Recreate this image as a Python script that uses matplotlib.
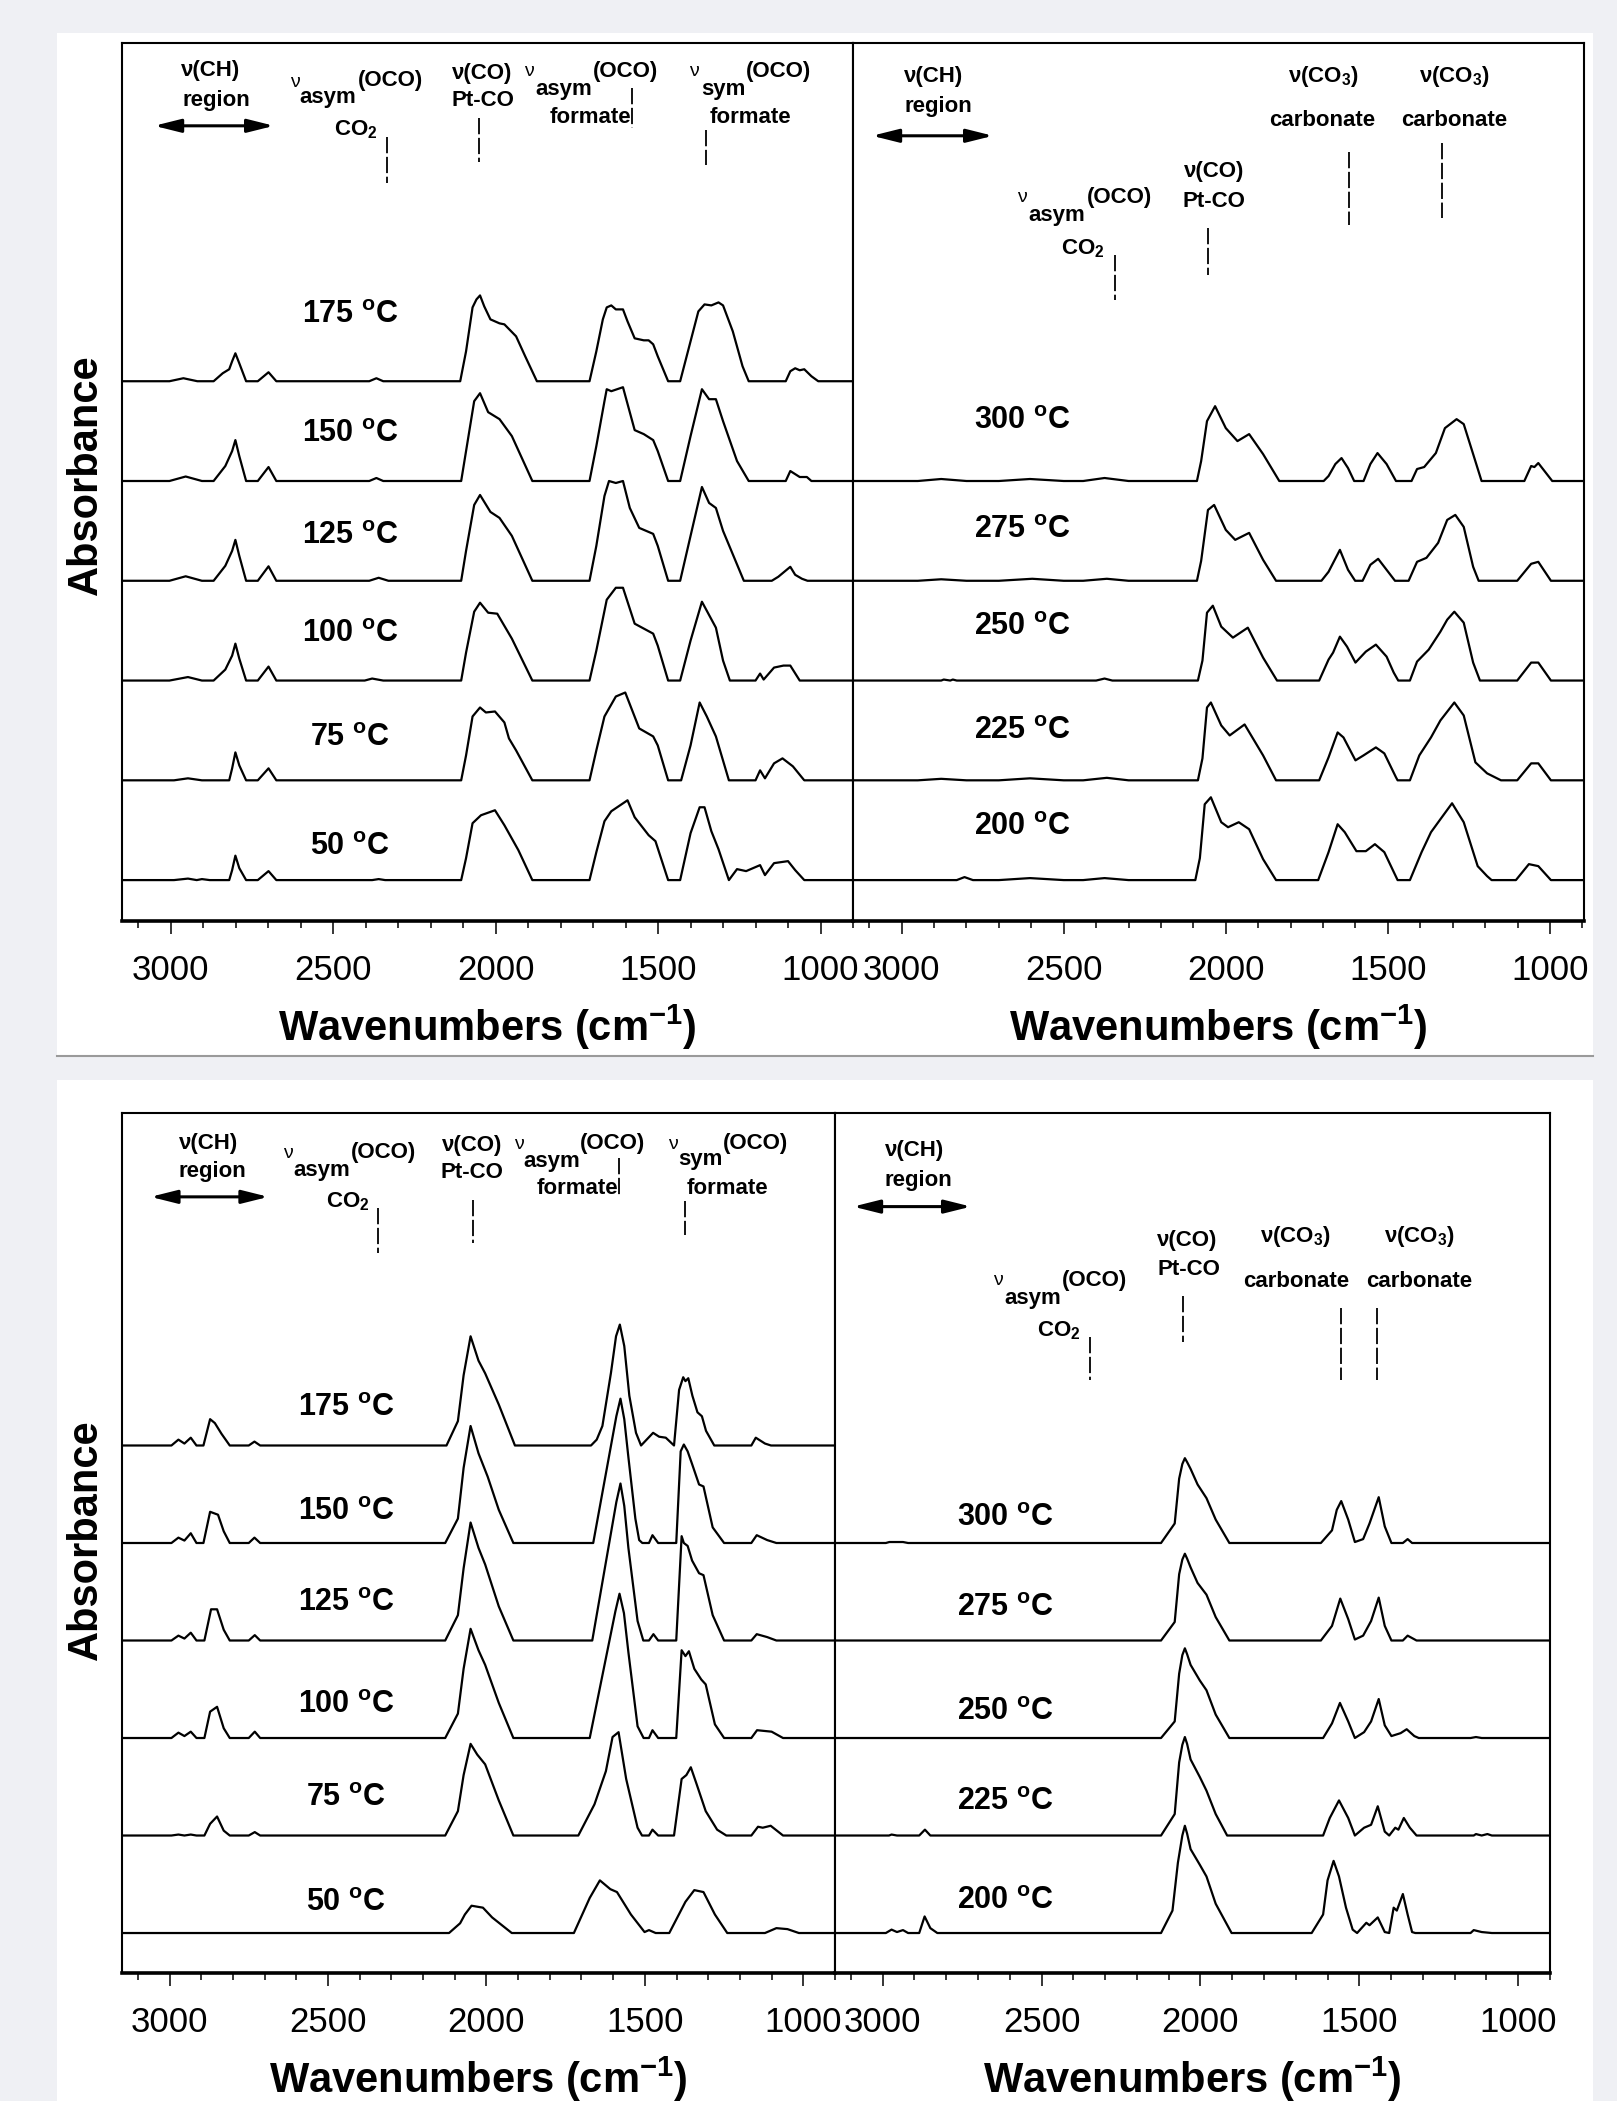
import matplotlib.pyplot as plt
from matplotlib.patches import Rectangle
from matplotlib.lines import Line2D
from matplotlib.ticker import MultipleLocator

W, H = 1617, 2101

plt.rcParams['font.family'] = ['Liberation Sans', 'DejaVu Sans']
plt.rcParams['mathtext.fontset'] = 'custom'
plt.rcParams['mathtext.rm'] = 'Liberation Sans'
plt.rcParams['mathtext.bf'] = 'Liberation Sans:bold'
plt.rcParams['mathtext.it'] = 'Liberation Sans:italic'

# spectra: (wavenumber cm-1, absorbance above the trace's own baseline)

# ---- upper figure, 50-175 C ----
tl_50 = [(3160, 0), (2990, 0), (2947, 0.015), (2920, 0), (2904, 0.01), (2880, 0), (2820, 0), (2811, 0.1),
         (2801, 0.245), (2789, 0.12), (2768, 0), (2732, 0), (2699, 0.09), (2675, 0), (2380, 0), (2360, 0.01),
         (2340, 0), (2106, 0), (2091, 0.22), (2071, 0.57), (2045, 0.65), (2002, 0.70), (1973, 0.55),
         (1930, 0.30), (1887, 0), (1711, 0), (1690, 0.28), (1665, 0.59), (1644, 0.69), (1594, 0.80),
         (1572, 0.63), (1529, 0.45), (1508, 0.39), (1469, 0), (1432, 0), (1400, 0.47), (1372, 0.73),
         (1357, 0.73), (1336, 0.49), (1314, 0.31), (1282, 0), (1257, 0.11), (1229, 0.09), (1186, 0.15),
         (1171, 0.05), (1143, 0.17), (1100, 0.19), (1078, 0.1), (1050, 0), (890, 0)]
tl_75 = [(3160, 0), (2990, 0), (2947, 0.02), (2904, 0), (2820, 0), (2811, 0.12), (2801, 0.28), (2789, 0.15),
         (2768, 0), (2732, 0), (2699, 0.12), (2675, 0), (2106, 0), (2091, 0.25), (2071, 0.64), (2048, 0.73),
         (2030, 0.68), (2002, 0.69), (1973, 0.58), (1959, 0.42), (1937, 0.30), (1887, 0), (1711, 0),
         (1690, 0.3), (1665, 0.64), (1630, 0.84), (1601, 0.88), (1558, 0.52), (1515, 0.44), (1501, 0.35),
         (1469, 0), (1429, 0), (1400, 0.35), (1372, 0.78), (1350, 0.64), (1322, 0.44), (1282, 0), (1200, 0),
         (1186, 0.10), (1171, 0.02), (1143, 0.17), (1117, 0.22), (1085, 0.14), (1050, 0), (890, 0)]
tl_100 = [(3160, 0), (3004, 0), (2947, 0.035), (2904, 0), (2868, 0), (2832, 0.11), (2811, 0.25), (2801, 0.37),
          (2789, 0.22), (2768, 0), (2732, 0), (2699, 0.14), (2675, 0), (2403, 0), (2380, 0.02), (2346, 0),
          (2106, 0), (2091, 0.28), (2066, 0.69), (2048, 0.78), (2023, 0.68), (1995, 0.67), (1950, 0.42),
          (1887, 0), (1711, 0), (1690, 0.3), (1658, 0.81), (1630, 0.93), (1608, 0.93), (1572, 0.57),
          (1515, 0.47), (1501, 0.35), (1469, 0), (1432, 0), (1400, 0.4), (1365, 0.79), (1322, 0.53),
          (1300, 0.2), (1279, 0), (1200, 0), (1186, 0.07), (1175, 0.01), (1143, 0.13), (1114, 0.15),
          (1093, 0.15), (1064, 0), (890, 0)]
tl_125 = [(3160, 0), (3004, 0), (2954, 0.045), (2904, 0), (2868, 0), (2832, 0.15), (2811, 0.3), (2801, 0.41),
          (2789, 0.25), (2768, 0), (2732, 0), (2699, 0.145), (2675, 0), (2389, 0), (2360, 0.03), (2330, 0),
          (2106, 0), (2091, 0.3), (2066, 0.76), (2048, 0.86), (2016, 0.69), (1988, 0.63), (1950, 0.45),
          (1887, 0), (1711, 0), (1690, 0.35), (1665, 0.85), (1651, 1.0), (1630, 0.98), (1608, 1.0),
          (1587, 0.73), (1558, 0.53), (1515, 0.47), (1501, 0.35), (1469, 0), (1432, 0), (1400, 0.45),
          (1365, 0.94), (1343, 0.78), (1322, 0.73), (1300, 0.5), (1236, 0), (1150, 0), (1130, 0.04),
          (1093, 0.14), (1078, 0.06), (1057, 0.02), (1040, 0), (890, 0)]
tl_150 = [(3160, 0), (3004, 0), (2954, 0.045), (2904, 0), (2868, 0), (2832, 0.15), (2811, 0.3), (2801, 0.41),
          (2789, 0.25), (2768, 0), (2732, 0), (2699, 0.14), (2675, 0), (2389, 0), (2367, 0.03), (2346, 0),
          (2106, 0), (2091, 0.3), (2066, 0.8), (2048, 0.88), (2023, 0.69), (1988, 0.62), (1950, 0.45),
          (1887, 0), (1711, 0), (1690, 0.35), (1665, 0.8), (1658, 0.92), (1644, 0.9), (1608, 0.94),
          (1572, 0.51), (1544, 0.47), (1515, 0.41), (1501, 0.3), (1469, 0), (1432, 0), (1400, 0.45),
          (1365, 0.92), (1343, 0.82), (1322, 0.82), (1300, 0.6), (1257, 0.2), (1221, 0), (1107, 0),
          (1093, 0.1), (1064, 0.04), (1042, 0.04), (1028, 0), (890, 0)]
tl_175 = [(3160, 0), (3004, 0), (2961, 0.03), (2918, 0), (2868, 0), (2840, 0.08), (2820, 0.12), (2811, 0.2),
          (2801, 0.28), (2789, 0.18), (2768, 0), (2732, 0), (2699, 0.09), (2675, 0), (2389, 0), (2367, 0.03),
          (2346, 0), (2109, 0), (2091, 0.3), (2071, 0.74), (2059, 0.82), (2048, 0.86), (2035, 0.75),
          (2016, 0.62), (1988, 0.58), (1973, 0.57), (1937, 0.45), (1909, 0.25), (1873, 0), (1711, 0),
          (1690, 0.3), (1670, 0.62), (1658, 0.74), (1644, 0.76), (1630, 0.72), (1608, 0.72), (1594, 0.6),
          (1572, 0.43), (1544, 0.41), (1529, 0.41), (1515, 0.37), (1501, 0.25), (1469, 0), (1432, 0),
          (1400, 0.4), (1376, 0.7), (1357, 0.77), (1336, 0.76), (1314, 0.79), (1300, 0.76), (1270, 0.5),
          (1240, 0.15), (1221, 0), (1107, 0), (1093, 0.1), (1078, 0.13), (1064, 0.11), (1050, 0.12),
          (1028, 0.05), (1007, 0), (890, 0)]

# ---- upper figure, 200-300 C ----
tr_200 = [(3160, 0), (2830, 0), (2806, 0.03), (2780, 0), (2700, 0), (2604, 0.02), (2500, 0), (2440, 0),
          (2374, 0.02), (2300, 0), (2094, 0), (2080, 0.22), (2065, 0.76), (2046, 0.83), (2014, 0.58),
          (1993, 0.53), (1960, 0.58), (1928, 0.51), (1885, 0.21), (1845, 0), (1715, 0), (1683, 0.28),
          (1655, 0.56), (1633, 0.48), (1597, 0.29), (1568, 0.29), (1540, 0.36), (1511, 0.28), (1470, 0),
          (1432, 0), (1396, 0.28), (1367, 0.48), (1338, 0.61), (1302, 0.77), (1266, 0.58), (1223, 0.14),
          (1194, 0.04), (1180, 0), (1105, 0), (1065, 0.16), (1036, 0.14), (997, 0), (890, 0)]
tr_225 = [(3160, 0), (2950, 0), (2878, 0.015), (2800, 0), (2700, 0), (2604, 0.02), (2500, 0), (2440, 0),
          (2367, 0.025), (2300, 0), (2086, 0), (2072, 0.22), (2058, 0.73), (2046, 0.78), (2014, 0.55),
          (1988, 0.45), (1942, 0.56), (1885, 0.25), (1845, 0), (1712, 0), (1683, 0.23), (1655, 0.48),
          (1637, 0.43), (1600, 0.20), (1575, 0.25), (1537, 0.33), (1511, 0.27), (1475, 0.03), (1470, 0),
          (1432, 0), (1403, 0.25), (1367, 0.43), (1338, 0.60), (1295, 0.78), (1266, 0.65), (1230, 0.18),
          (1194, 0.07), (1151, 0), (1101, 0), (1058, 0.17), (1036, 0.17), (997, 0), (890, 0)]
tr_250 = [(3160, 0), (2878, 0), (2870, 0.01), (2850, 0), (2842, 0.01), (2830, 0), (2400, 0), (2374, 0.02),
          (2350, 0), (2086, 0), (2072, 0.2), (2058, 0.68), (2040, 0.75), (2014, 0.54), (1978, 0.43),
          (1932, 0.53), (1885, 0.23), (1842, 0), (1712, 0), (1683, 0.21), (1669, 0.28), (1648, 0.44),
          (1626, 0.34), (1600, 0.18), (1568, 0.29), (1537, 0.36), (1504, 0.24), (1482, 0.08), (1468, 0),
          (1432, 0), (1410, 0.19), (1374, 0.31), (1338, 0.49), (1317, 0.61), (1295, 0.69), (1266, 0.58),
          (1237, 0.18), (1216, 0), (1101, 0), (1058, 0.18), (1036, 0.18), (997, 0), (890, 0)]
tr_275 = [(3160, 0), (2950, 0), (2878, 0.015), (2800, 0), (2700, 0), (2597, 0.02), (2500, 0), (2440, 0),
          (2367, 0.02), (2300, 0), (2089, 0), (2076, 0.2), (2055, 0.71), (2036, 0.76), (2000, 0.51),
          (1971, 0.41), (1928, 0.48), (1885, 0.21), (1845, 0), (1705, 0), (1683, 0.09), (1648, 0.31),
          (1623, 0.11), (1601, 0), (1578, 0), (1554, 0.16), (1530, 0.22), (1504, 0.11), (1478, 0),
          (1436, 0), (1410, 0.19), (1381, 0.23), (1345, 0.38), (1317, 0.61), (1292, 0.66), (1266, 0.54),
          (1237, 0.14), (1220, 0), (1101, 0), (1058, 0.17), (1036, 0.19), (997, 0), (890, 0)]
tr_300 = [(3160, 0), (2950, 0), (2878, 0.02), (2800, 0), (2700, 0), (2604, 0.02), (2500, 0), (2440, 0),
          (2374, 0.03), (2300, 0), (2089, 0), (2076, 0.2), (2058, 0.6), (2033, 0.75), (2000, 0.53),
          (1964, 0.40), (1928, 0.47), (1885, 0.27), (1835, 0), (1698, 0), (1683, 0.05), (1662, 0.17),
          (1643, 0.23), (1623, 0.13), (1604, 0), (1575, 0), (1554, 0.17), (1532, 0.28), (1504, 0.17),
          (1475, 0), (1427, 0), (1410, 0.12), (1388, 0.14), (1352, 0.28), (1324, 0.53), (1288, 0.62),
          (1266, 0.57), (1237, 0.27), (1211, 0), (1079, 0), (1058, 0.15), (1048, 0.14), (1036, 0.18),
          (993, 0), (890, 0)]

# ---- lower figure, 50-175 C ----
bl_50 = [(3160, 0), (2118, 0), (2083, 0.1), (2068, 0.19), (2047, 0.28), (2011, 0.26), (1982, 0.16),
         (1920, 0), (1724, 0), (1674, 0.36), (1642, 0.54), (1609, 0.45), (1588, 0.42), (1544, 0.19),
         (1501, 0.01), (1487, 0.03), (1466, 0), (1423, 0), (1372, 0.32), (1344, 0.44), (1315, 0.42),
         (1279, 0.19), (1240, 0), (1121, 0), (1085, 0.05), (1050, 0.04), (1014, 0), (890, 0)]
bl_75 = [(3160, 0), (2994, 0), (2972, 0.01), (2953, 0), (2933, 0.01), (2915, 0), (2890, 0), (2872, 0.12),
         (2850, 0.195), (2829, 0.05), (2810, 0), (2750, 0), (2731, 0.035), (2714, 0), (2130, 0),
         (2090, 0.25), (2072, 0.62), (2050, 0.94), (2029, 0.83), (2004, 0.73), (1961, 0.36), (1915, 0),
         (1710, 0), (1659, 0.32), (1623, 0.66), (1602, 1.01), (1583, 1.06), (1559, 0.58), (1523, 0.08),
         (1509, 0), (1487, 0), (1476, 0.06), (1458, 0), (1408, 0), (1384, 0.58), (1369, 0.62),
         (1355, 0.70), (1337, 0.53), (1308, 0.25), (1272, 0.06), (1243, 0), (1164, 0), (1143, 0.09),
         (1128, 0.08), (1103, 0.10), (1064, 0), (890, 0)]
bl_100 = [(3160, 0), (2994, 0), (2972, 0.055), (2953, 0.02), (2933, 0.065), (2915, 0), (2890, 0),
          (2872, 0.27), (2850, 0.32), (2829, 0.10), (2810, 0), (2750, 0), (2731, 0.065), (2714, 0),
          (2130, 0), (2090, 0.25), (2072, 0.71), (2050, 1.12), (2025, 0.90), (2004, 0.75), (1961, 0.36),
          (1915, 0), (1674, 0), (1593, 1.3), (1580, 1.48), (1566, 1.28), (1552, 0.88), (1523, 0.12),
          (1504, 0), (1487, 0), (1476, 0.08), (1458, 0), (1401, 0), (1384, 0.9), (1372, 0.84),
          (1361, 0.89), (1344, 0.71), (1322, 0.6), (1308, 0.55), (1279, 0.14), (1250, 0), (1164, 0),
          (1146, 0.08), (1100, 0.065), (1064, 0), (890, 0)]
bl_125 = [(3160, 0), (2994, 0), (2972, 0.05), (2953, 0.02), (2933, 0.08), (2915, 0), (2890, 0),
          (2869, 0.32), (2850, 0.32), (2829, 0.11), (2810, 0), (2750, 0), (2731, 0.055), (2714, 0),
          (2130, 0), (2090, 0.26), (2072, 0.74), (2050, 1.21), (2025, 0.95), (2004, 0.78), (1961, 0.35),
          (1915, 0), (1666, 0), (1590, 1.42), (1577, 1.61), (1565, 1.38), (1552, 0.95), (1523, 0.2),
          (1505, 0), (1487, 0), (1473, 0.065), (1458, 0), (1401, 0), (1384, 1.07), (1377, 1.0),
          (1365, 0.97), (1351, 0.82), (1329, 0.69), (1315, 0.67), (1286, 0.26), (1250, 0), (1164, 0),
          (1147, 0.065), (1114, 0.035), (1085, 0), (890, 0)]
bl_150 = [(3160, 0), (2994, 0), (2972, 0.055), (2953, 0.025), (2933, 0.10), (2915, 0), (2893, 0),
          (2872, 0.32), (2847, 0.29), (2829, 0.12), (2810, 0), (2750, 0), (2732, 0.055), (2714, 0),
          (2130, 0), (2090, 0.25), (2072, 0.77), (2050, 1.2), (2025, 0.92), (1996, 0.68), (1961, 0.34),
          (1915, 0), (1663, 0), (1590, 1.3), (1577, 1.48), (1565, 1.27), (1552, 0.88), (1530, 0.25),
          (1518, 0.03), (1508, 0), (1487, 0), (1476, 0.08), (1458, 0), (1401, 0), (1387, 0.94),
          (1377, 1.01), (1365, 0.94), (1351, 0.81), (1329, 0.6), (1315, 0.58), (1286, 0.16), (1250, 0),
          (1164, 0), (1147, 0.08), (1114, 0.03), (1085, 0), (890, 0)]
bl_175 = [(3160, 0), (2994, 0), (2972, 0.06), (2953, 0.02), (2933, 0.08), (2915, 0), (2893, 0),
          (2872, 0.27), (2857, 0.23), (2836, 0.12), (2810, 0), (2750, 0), (2732, 0.04), (2714, 0),
          (2126, 0), (2090, 0.25), (2072, 0.72), (2050, 1.12), (2025, 0.87), (2004, 0.74), (1961, 0.42),
          (1910, 0), (1670, 0), (1652, 0.06), (1634, 0.2), (1607, 0.745), (1591, 1.12), (1579, 1.24),
          (1565, 1.02), (1549, 0.51), (1528, 0.13), (1512, 0), (1474, 0.13), (1455, 0.09), (1434, 0.08),
          (1408, 0), (1392, 0.57), (1379, 0.70), (1372, 0.66), (1363, 0.69), (1350, 0.51), (1334, 0.34),
          (1320, 0.30), (1307, 0.15), (1281, 0), (1164, 0), (1150, 0.08), (1121, 0.02), (1102, 0), (890, 0)]

# ---- lower figure, 200-300 C ----
br_200 = [(3160, 0), (2990, 0), (2972, 0.035), (2955, 0.01), (2936, 0.03), (2920, 0), (2885, 0),
          (2868, 0.17), (2850, 0.05), (2828, 0), (2124, 0), (2088, 0.23), (2071, 0.72), (2057, 1.0),
          (2049, 1.10), (2042, 1.02), (2031, 0.86), (2002, 0.70), (1981, 0.58), (1952, 0.30), (1902, 0),
          (1650, 0), (1614, 0.19), (1600, 0.54), (1581, 0.74), (1564, 0.58), (1542, 0.26), (1521, 0.035),
          (1507, 0), (1478, 0.105), (1468, 0.08), (1442, 0.16), (1420, 0.01), (1406, 0), (1392, 0.26),
          (1382, 0.23), (1363, 0.40), (1348, 0.19), (1334, 0.01), (1324, 0), (1150, 0), (1140, 0.03),
          (1115, 0.01), (1083, 0), (890, 0)]
br_225 = [(3160, 0), (2980, 0), (2972, 0.01), (2955, 0), (2885, 0), (2867, 0.06), (2850, 0), (2124, 0),
          (2081, 0.22), (2067, 0.75), (2057, 0.93), (2049, 1.01), (2042, 0.94), (2031, 0.78), (2002, 0.60),
          (1981, 0.46), (1952, 0.22), (1916, 0), (1614, 0), (1593, 0.18), (1564, 0.36), (1535, 0.18),
          (1514, 0), (1485, 0.08), (1463, 0.11), (1442, 0.30), (1420, 0.04), (1406, 0), (1387, 0.08),
          (1377, 0.06), (1360, 0.18), (1341, 0.08), (1320, 0), (1140, 0), (1133, 0.015), (1115, 0),
          (1097, 0.015), (1083, 0), (890, 0)]
br_250 = [(3160, 0), (2124, 0), (2081, 0.17), (2067, 0.66), (2057, 0.85), (2049, 0.92), (2042, 0.86),
          (2031, 0.75), (2002, 0.59), (1981, 0.49), (1952, 0.24), (1909, 0), (1614, 0), (1586, 0.15),
          (1561, 0.36), (1535, 0.17), (1514, 0), (1485, 0.06), (1463, 0.17), (1439, 0.40), (1420, 0.13),
          (1399, 0.02), (1370, 0.05), (1351, 0.09), (1327, 0.02), (1313, 0), (1150, 0), (1133, 0.01),
          (1115, 0), (890, 0)]
br_275 = [(3160, 0), (2124, 0), (2081, 0.19), (2067, 0.68), (2057, 0.83), (2049, 0.89), (2042, 0.84),
          (2031, 0.75), (2009, 0.59), (1981, 0.47), (1952, 0.24), (1909, 0), (1621, 0), (1586, 0.15),
          (1560, 0.43), (1535, 0.22), (1514, 0.01), (1488, 0.05), (1463, 0.2), (1439, 0.44), (1420, 0.15),
          (1399, 0), (1363, 0), (1348, 0.05), (1320, 0), (890, 0)]
br_300 = [(3160, 0), (2990, 0), (2979, 0.01), (2936, 0.01), (2920, 0), (2124, 0), (2081, 0.2), (2067, 0.66),
          (2057, 0.81), (2049, 0.87), (2042, 0.83), (2031, 0.76), (2009, 0.6), (1981, 0.46), (1952, 0.24),
          (1909, 0), (1621, 0), (1586, 0.13), (1571, 0.34), (1557, 0.43), (1535, 0.24), (1514, 0.01),
          (1488, 0.04), (1468, 0.2), (1439, 0.47), (1420, 0.17), (1399, 0), (1363, 0), (1348, 0.04),
          (1334, 0), (890, 0)]

low_temps = ['50', '75', '100', '125', '150', '175']
high_temps = ['200', '225', '250', '275', '300']

top_low = [tl_50, tl_75, tl_100, tl_125, tl_150, tl_175]
top_high = [tr_200, tr_225, tr_250, tr_275, tr_300]
bot_low = [bl_50, bl_75, bl_100, bl_125, bl_150, bl_175]
bot_high = [br_200, br_225, br_250, br_275, br_300]

fig = plt.figure(figsize=(W / 100, H / 100), dpi=100, facecolor='#eff0f4')
fig.add_artist(Rectangle((57 / W, 1 - 1056 / H), (1593 - 57) / W, (1056 - 33) / H,
                         transform=fig.transFigure, facecolor='white', edgecolor='none', zorder=-10))
fig.add_artist(Rectangle((57 / W, 0), (1593 - 57) / W, (H - 1080) / H,
                         transform=fig.transFigure, facecolor='white', edgecolor='none', zorder=-10))
fig.add_artist(Line2D([57 / W, 1593 / W], [1 - 1056 / H, 1 - 1056 / H],
                      transform=fig.transFigure, color='#9a9a9a', lw=1.5))


def px_axes(x0, y0, x1, y1):
    return fig.add_axes([x0 / W, 1 - y1 / H, (x1 - x0) / W, (y1 - y0) / H])


def setup(ax, xlim, ylim, h_px):
    ax.set_xlim(*xlim)
    ax.set_ylim(*ylim)
    ax.set_yticks([])
    ax.xaxis.set_major_locator(MultipleLocator(500))
    ax.xaxis.set_minor_locator(MultipleLocator(100))
    ax.tick_params(axis='x', which='major', direction='out', length=9, width=1.1,
                   labelsize=25, pad=15)
    ax.tick_params(axis='x', which='minor', direction='out', length=5, width=1.1)
    for s in ax.spines.values():
        s.set_linewidth(1.5)
    ax.spines['bottom'].set_linewidth(2.6)
    ax.set_xlabel(r'Wavenumbers (cm$^\mathbf{-1}$)', fontsize=30, fontweight='bold', va='center')
    ax.xaxis.set_label_coords(0.5, -106 / h_px)


def draw(ax, traces, temps, lab_wn, lab_dy):
    for off, (pts, t, dy) in enumerate(zip(traces, temps, lab_dy)):
        wn = [p[0] for p in pts]
        ab = [p[1] + off for p in pts]
        ax.plot(wn, ab, color='black', lw=1.6, solid_joinstyle='round')
        ax.text(lab_wn, off + dy, t + r' $^\mathbf{o}$C', ha='center', va='center',
                fontsize=22, fontweight='bold')


def notes(ax, texts, arrow, dashes):
    for s, x, y in texts:
        if s == 'ν':
            ax.text(x, y, s, ha='center', va='center', fontsize=14)
        else:
            ax.text(x, y, s, ha='center', va='center', fontsize=16, fontweight='bold')
    x0, x1, y = arrow
    ax.annotate('', xy=(x1, y), xytext=(x0, y),
                arrowprops=dict(arrowstyle='<|-|>,head_length=0.8,head_width=0.2',
                                color='black', lw=2.2, mutation_scale=20, shrinkA=0, shrinkB=0))
    for x, y0, y1 in dashes:
        ax.plot([x, x], [y0, y1], color='black', lw=1.3, ls=(0, (9, 2)))


ax_tl = px_axes(122, 43, 853, 921)
ax_tr = px_axes(853, 43, 1584, 921)
ax_bl = px_axes(122, 1113, 835, 1973)
ax_br = px_axes(835, 1113, 1550, 1973)

setup(ax_tl, (3150, 900), (-0.41, 8.39), 878)
setup(ax_tr, (3150, 895), (-0.41, 8.39), 878)
setup(ax_bl, (3150, 900), (-0.41, 8.41), 860)
setup(ax_br, (3150, 900), (-0.41, 8.41), 860)

draw(ax_tl, top_low, low_temps, 2448, [0.335, 0.42, 0.47, 0.45, 0.47, 0.66])
draw(ax_tr, top_high, high_temps, 2627, [0.53, 0.49, 0.54, 0.51, 0.60])
draw(ax_bl, bot_low, low_temps, 2442, [0.31, 0.38, 0.34, 0.38, 0.32, 0.385])
draw(ax_br, bot_high, high_temps, 2613, [0.33, 0.34, 0.27, 0.33, 0.26])

notes(ax_tl,
      [('ν(CH)', 2876, 8.11), ('region', 2861, 7.81),
       ('ν', 2619, 7.99), ('asym', 2517, 7.84), ('(OCO)', 2323, 8.01), (r'CO$_\mathbf{2}$', 2431, 7.52),
       ('ν(CO)', 2043, 8.08), ('Pt-CO', 2040, 7.81),
       ('ν', 1896, 8.10), ('asym', 1790, 7.92), ('(OCO)', 1601, 8.10), ('formate', 1707, 7.64),
       ('ν', 1389, 8.10), ('sym', 1300, 7.92), ('(OCO)', 1128, 8.10), ('formate', 1217, 7.64)],
      (3051, 2682, 7.56),
      [(2335, 7.45, 6.99), (2051, 7.64, 7.20), (1579, 7.94, 7.54), (1352, 7.52, 7.17)])
notes(ax_tr,
      [('ν(CH)', 2900, 8.05), ('region', 2888, 7.75),
       ('ν', 2628, 6.84), ('asym', 2520, 6.66), ('(OCO)', 2329, 6.84), (r'CO$_\mathbf{2}$', 2440, 6.33),
       ('ν(CO)', 2036, 7.10), ('Pt-CO', 2036, 6.80),
       (r'ν(CO$_\mathbf{3}$)', 1700, 8.05), ('carbonate', 1703, 7.61),
       (r'ν(CO$_\mathbf{3}$)', 1295, 8.05), ('carbonate', 1295, 7.61)],
      (3091, 2718, 7.46),
      [(2341, 6.27, 5.81), (2054, 6.54, 6.06), (1619, 7.30, 6.57), (1332, 7.39, 6.64)])
notes(ax_bl,
      [('ν(CH)', 2878, 8.10), ('region', 2865, 7.81),
       ('ν', 2625, 7.99), ('asym', 2521, 7.82), ('(OCO)', 2325, 8.00), (r'CO$_\mathbf{2}$', 2436, 7.50),
       ('ν(CO)', 2045, 8.08), ('Pt-CO', 2045, 7.80),
       ('ν', 1896, 8.09), ('asym', 1795, 7.91), ('(OCO)', 1603, 8.10), ('formate', 1713, 7.64),
       ('ν', 1410, 8.09), ('sym', 1325, 7.93), ('(OCO)', 1152, 8.10), ('formate', 1240, 7.64)],
      (3060, 2688, 7.55),
      [(2341, 7.44, 6.97), (2041, 7.52, 7.08), (1581, 7.95, 7.55), (1373, 7.51, 7.16)])
notes(ax_br,
      [('ν(CH)', 2901, 8.03), ('region', 2889, 7.72),
       ('ν', 2637, 6.69), ('asym', 2528, 6.51), ('(OCO)', 2334, 6.69), (r'CO$_\mathbf{2}$', 2445, 6.18),
       ('ν(CO)', 2041, 7.10), ('Pt-CO', 2037, 6.80),
       (r'ν(CO$_\mathbf{3}$)', 1700, 7.14), ('carbonate', 1700, 6.68),
       (r'ν(CO$_\mathbf{3}$)', 1312, 7.14), ('carbonate', 1312, 6.68)],
      (3093, 2722, 7.45),
      [(2349, 6.11, 5.67), (2056, 6.53, 6.06), (1558, 6.41, 5.67), (1444, 6.41, 5.67)])

fig.text(86 / W, 1 - 475 / H, 'Absorbance', rotation=90, ha='center', va='center',
         fontsize=30, fontweight='bold')
fig.text(86 / W, 1 - 1540 / H, 'Absorbance', rotation=90, ha='center', va='center',
         fontsize=30, fontweight='bold')

fig.savefig('out.png', dpi=100, facecolor=fig.get_facecolor())
